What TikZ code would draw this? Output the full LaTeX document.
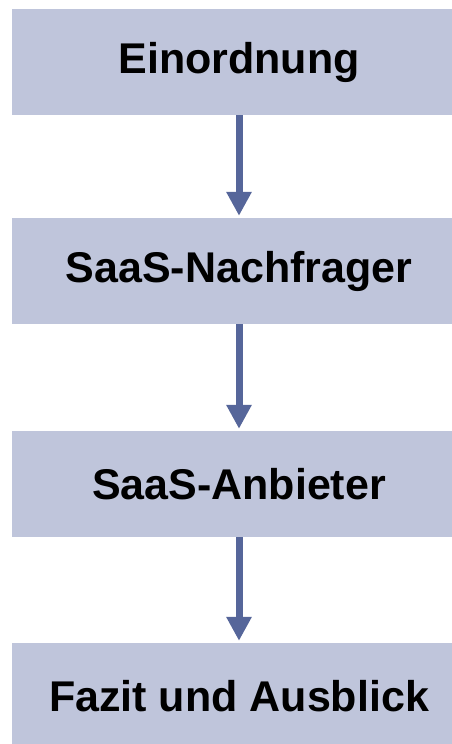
\documentclass[tikz,border=0pt]{standalone}
\usepackage{fontspec}
\setmainfont{Liberation Sans}
\usetikzlibrary{arrows.meta}
\definecolor{boxfill}{HTML}{BFC5DB}
\definecolor{arrowblue}{HTML}{56669A}
\begin{document}
\begin{tikzpicture}[x=1bp,y=-1bp,
  stage/.style={rectangle, fill=boxfill, draw=none, minimum width=454bp,
    minimum height=106bp, inner sep=0pt,
    font=\fontsize{43bp}{50bp}\selectfont\bfseries},
  flow/.style={draw=arrowblue, line width=7bp, shorten >=2bp,
    -{Triangle[width=24bp,length=24bp]}}]
  \useasboundingbox (0,0) rectangle (452,744);
  \node[stage] (b1) at (239,62) {Einordnung};
  \node[stage] (b2) at (239,271) {SaaS-Nachfrager};
  \node[stage] (b3) at (239,484) {SaaS-Anbieter};
  \node[stage] (b4) at (239,696) {Fazit und Ausblick};
  \draw[flow] (b1.south) -- (b2.north);
  \draw[flow] (b2.south) -- (b3.north);
  \draw[flow] (b3.south) -- (b4.north);
\end{tikzpicture}
\end{document}
